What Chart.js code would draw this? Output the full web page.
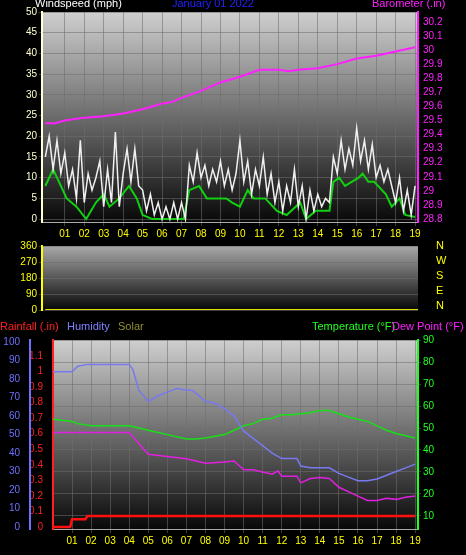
<!DOCTYPE html>
<html><head><meta charset="utf-8">
<script src="https://cdn.jsdelivr.net/npm/chart.js@4/dist/chart.umd.min.js"></script>
<style>
body{margin:0;background:#000;width:466px;height:555px;overflow:hidden;position:relative;font-family:"Liberation Sans",Arial,sans-serif;}
canvas{position:absolute;left:0;}
.t{position:absolute;font-size:11px;white-space:nowrap;}
</style></head><body>
<canvas id="c1" width="466" height="240" style="top:0"></canvas>
<canvas id="c2" width="466" height="80" style="top:238px"></canvas>
<canvas id="c3" width="466" height="245" style="top:310px"></canvas>
<span class="t" style="left:35px;top:-3px;color:#fff">Windspeed (mph)</span>
<span class="t" style="left:172px;top:-3px;color:#2020ff">January 01 2022</span>
<span class="t" style="left:372px;top:-3px;color:#ff20ff">Barometer (.in)</span>
<span class="t" style="left:436px;top:238px;color:#ffff00;line-height:15px;font-size:11px">N<br>W<br>S<br>E<br>N</span>
<span class="t" style="left:0;top:320px;color:#ff2020">Rainfall (.in)</span>
<span class="t" style="left:67px;top:320px;color:#8080ff">Humidity</span>
<span class="t" style="left:118px;top:320px;color:#909030">Solar</span>
<span class="t" style="left:312px;top:320px;color:#20ff20">Temperature (°F)</span>
<span class="t" style="left:392px;top:320px;color:#ff20ff">Dew Point (°F)</span>
<script>
// wind gust sampled every 0.2 h
const gust = [15,20,12,19,11,16,8,12,5,19,4,11,7,10,14,3,12,4,21,3,11,17,9,17,8,7,2,6,1,4,0,3,0,4,0,4,0,13,9,16,10,13,8,12,9,14,8,12,7,11,19,9,14,6,12,8,15,6,11,4,9,2,8,4,12,3,8,0,7,2,6,3,5,4,15,11,19,12,17,13,22,14,19,12,18,10,13,9,12,8,4,10,2,7,1,8];
const gustHours = gust.map((v, i) => i * 0.2);
const avgHours = [0,0.4,1.1,1.6,2.1,2.6,3,3.3,3.8,4.3,4.7,5,5.5,6.2,7.1,7.4,7.9,8.3,8.8,9.3,9.6,10,10.4,10.7,11.3,11.9,12.4,13.1,13.4,13.9,14.6,14.8,15.1,15.4,16.1,16.3,16.6,16.9,17.5,17.8,18.2,18.5,19];
const windAvg = [8,12,5,3,0,4,6,3,5,8,5,1,0,0,0,7,8,5,5,5,4,3,7,5,5,2,1,4,0,2,2,9,10,8,10,11,9,9,6,3,5,1,0.5];
const baroHours = [0,0.5,1,2,3,4,5,6,6.5,7,8,9,10,11,12,12.5,13,14,15,16,17,18,19];
const baro = [29.48,29.48,29.5,29.52,29.53,29.55,29.58,29.62,29.63,29.66,29.71,29.77,29.81,29.86,29.86,29.85,29.86,29.87,29.9,29.94,29.96,29.99,30.02];

const humHours = [0,1,1.3,1.8,2,4,4.2,4.5,5,5.5,6,6.5,7,7.3,8,8.5,9,9.5,10,10.5,11,11.5,12,12.5,12.8,13,13.5,14,14.5,15,15.5,16,16.5,17,17.5,18,18.5,19];
const humidity = [84,84,87,88,88,88,85,74,68,71,73,75,74,74,68,67,64,60,52,48,44,40,37,37,37,33,32,32,32,29,27,25,25,26,28,30,32,34];
const tempHours = [0,1,1.3,2,3,4,4.5,5,6,7,7.5,8,9,9.5,10,10.5,11,11.5,12,12.5,13,13.5,14,14.5,15,15.5,16,16.5,17,17.5,18,18.5,19];
const temperature = [54,53,52,51,51,51,50,49,47,45,45,45.5,47,49,51,52,54,54.5,56,56,56.5,57,58,58,56.5,55,54,53,51,49,47.5,46.5,45.5];
const dewHours = [0,1,2,4,4.5,5,6,7,8,9,9.5,10,10.5,11,11.5,11.8,12,12.5,12.8,13,13.5,14,14.5,15,15.5,16,16.5,17,17.5,18,18.5,19];
const dewPoint = [48,48,48,48,43,38,37,36,34,34.5,35,31,31,30,29,30.5,28,28,28,25,27,27.5,27,23,21,19,17,17,18,17.5,18.5,19];
const rainHours = [0,0.9,1.0,1.7,1.8,19];
const rainfall = [0,0,0.05,0.05,0.07,0.07];
const hourTicks = [1,2,3,4,5,6,7,8,9,10,11,12,13,14,15,16,17,18,19];

const pts = (xs, ys) => xs.map((x, i) => ({x: x, y: ys[i]}));
const font = {family: '"Liberation Sans", Arial, sans-serif', size: 10};
const gridC = 'rgba(110,110,110,0.55)';

const bgPlugin = {
  id: 'bg',
  beforeDraw(chart, args, o) {
    const a = chart.chartArea, ctx = chart.ctx;
    const g = ctx.createLinearGradient(0, a.top, 0, a.bottom);
    g.addColorStop(0, o.top || '#cfcfcf');
    g.addColorStop(1, '#080808');
    ctx.save();
    ctx.fillStyle = g;
    ctx.fillRect(a.left, a.top, a.right - a.left, a.bottom - a.top);
    ctx.restore();
  }
};

function xAxis(min, h) {
  return {
    type: 'linear', min: min, max: 19.15,
    afterBuildTicks: ax => { ax.ticks = hourTicks.map(v => ({value: v})); },
    afterFit: ax => { ax.height = h; },
    ticks: {color: '#ffff00', font: font, padding: 2, callback: v => String(v).padStart(2, '0')},
    grid: {color: gridC, drawTicks: true, tickLength: 4},
    border: {color: '#aaa'}
  };
}
function yAxis(pos, min, max, tickVals, color, width, dec) {
  return {
    type: 'linear', position: pos, min: min, max: max,
    afterBuildTicks: ax => { ax.ticks = tickVals.map(v => ({value: v})); },
    afterFit: ax => { ax.width = width; },
    ticks: {color: color, font: font, padding: 2, callback: v => dec ? +v.toFixed(dec) : v},
    grid: {display: pos === 'left', color: gridC, tickLength: 3},
    border: {color: color, width: 2}
  };
}
const baseOpts = {
  responsive: false, animation: false,
  plugins: {legend: {display: false}, tooltip: {enabled: false}},
  elements: {point: {radius: 0}, line: {tension: 0}}
};

new Chart(document.getElementById('c1'), {
  type: 'line',
  data: {datasets: [
    {data: pts(baroHours, baro), yAxisID: 'yb', borderColor: '#ff20ff', borderWidth: 2},
    {data: pts(gustHours, gust), yAxisID: 'y', borderColor: '#f0f0f0', borderWidth: 1.5},
    {data: pts(avgHours, windAvg), yAxisID: 'y', borderColor: '#10d010', borderWidth: 2}
  ]},
  options: Object.assign({}, baseOpts, {
    layout: {padding: {top: 12, left: 0, right: 0}},
    scales: {
      x: xAxis(-0.17, 18),
      y: yAxis('left', -0.7, 50, [0,5,10,15,20,25,30,35,40,45,50], '#ffffd0', 42, 0),
      yb: yAxis('right', 28.779, 30.27, [28.8,28.9,29,29.1,29.2,29.3,29.4,29.5,29.6,29.7,29.8,29.9,30,30.1,30.2], '#ff20ff', 48, 1)
    }
  }),
  plugins: [bgPlugin]
});

const dirHours = [0, 19.15];
const windDir = [0, 0];
new Chart(document.getElementById('c2'), {
  type: 'line',
  data: {datasets: [{data: pts(dirHours, windDir), borderColor: '#e0e000', borderWidth: 2}]},
  options: Object.assign({}, baseOpts, {
    layout: {padding: {top: 7, right: 48}},
    scales: {
      x: {type: 'linear', min: -0.17, max: 19.15, ticks: {display: false}, grid: {display: false}, border: {display: false}, afterFit: ax => { ax.height = 6; }},
      y: yAxis('left', 0, 360, [0,90,180,270,360], '#ffff00', 42, 0)
    }
  }),
  plugins: [{id: 'bg', beforeDraw: (c, a) => bgPlugin.beforeDraw(c, a, {top: '#a8a8a8'})}]
});

new Chart(document.getElementById('c3'), {
  type: 'line',
  data: {datasets: [
    {data: pts(humHours, humidity), yAxisID: 'yh', borderColor: '#7878f0', borderWidth: 1.5},
    {data: pts(tempHours, temperature), yAxisID: 'yt', borderColor: '#18e018', borderWidth: 1.5},
    {data: pts(dewHours, dewPoint), yAxisID: 'yt', borderColor: '#e020e0', borderWidth: 1.5},
    {data: pts(rainHours, rainfall), yAxisID: 'yr', borderColor: '#ff1010', borderWidth: 2.5}
  ]},
  options: Object.assign({}, baseOpts, {
    layout: {padding: {top: 30}},
    scales: {
      x: xAxis(0, 26),
      yr: Object.assign(yAxis('left', -0.013, 1.203, [0,0.1,0.2,0.3,0.4,0.5,0.6,0.7,0.8,0.9,1,1.1], '#ff2020', 23, 1), {grid: {display: false}}),
      yh: Object.assign(yAxis('left', -1.1, 101.2, [0,10,20,30,40,50,60,70,80,90,100], '#7070ff', 30, 0), {grid: {display: false}}),
      yt: Object.assign(yAxis('right', 4.0, 90.1, [10,20,30,40,50,60,70,80,90], '#20ff20', 48, 0), {grid: {display: true, color: gridC, tickLength: 3}})
    }
  }),
  plugins: [bgPlugin]
});
</script>
</body></html>
